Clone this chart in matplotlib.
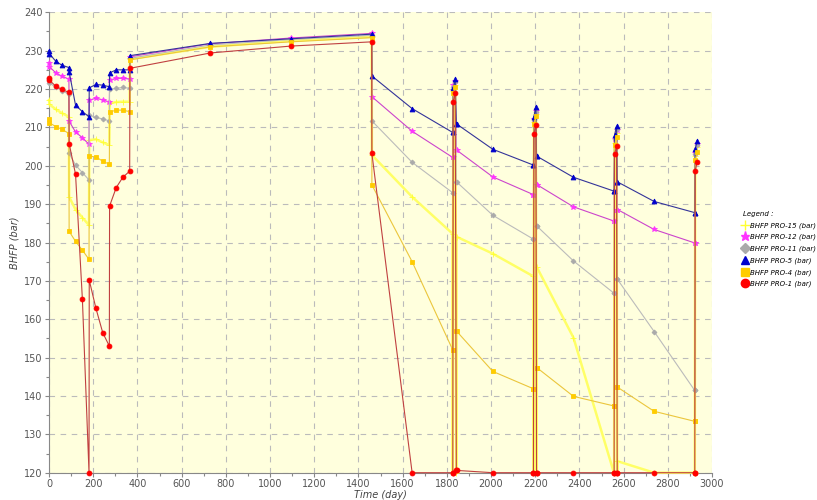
import matplotlib
matplotlib.use('Agg')
import matplotlib.pyplot as plt
from matplotlib.lines import Line2D
from matplotlib.ticker import MultipleLocator

# Simulation report times (days)
days = [0, 2, 31, 59, 90, 91, 120, 151, 181, 182, 212, 243, 273, 274, 304, 334,
        365, 366, 730, 1095, 1460, 1461, 1643,
        1826, 1827, 1829, 1838, 1843, 1844, 2008,
        2191, 2192, 2194, 2203, 2206, 2207, 2373,
        2556, 2557, 2559, 2568, 2571, 2572, 2738,
        2921, 2922, 2924, 2933]

# Bottom hole flowing pressure per well (bar)
pro15 = [217.1, 216.0, 214.7, 213.7, 212.8, 191.9, 188.6, 186.5, 184.5, 206.7, 206.9, 206.1, 205.4, 216.3, 216.6, 216.7,
         216.7, 227.8, 231.0, 232.6, 233.6, 202.8, 191.9,
         182.3, 120.0, 219.5, 221.0, 120.0, 181.5, 177.1,
         171.2, 120.0, 211.5, 213.5, 120.0, 173.6, 155.2,
         120.0, 120.0, 206.0, 208.5, 120.0, 123.0, 120.0,
         120.0, 120.0, 202.5, 205.0]
pro12 = [226.9, 225.8, 224.2, 223.3, 222.6, 211.6, 208.8, 207.3, 205.6, 217.1, 217.6, 217.2, 216.6, 222.3, 222.8, 222.8,
         222.6, 228.4, 231.8, 233.3, 234.5, 218.0, 209.0,
         202.2, 202.2, 221.0, 222.2, 204.1, 204.1, 197.1,
         192.5, 192.5, 212.2, 214.2, 195.1, 195.1, 189.3,
         185.6, 185.6, 207.0, 209.2, 188.6, 188.6, 183.4,
         179.9, 179.9, 203.4, 205.8]
pro11 = [222.8, 221.6, 220.4, 219.6, 218.6, 203.2, 200.2, 198.2, 196.3, 213.2, 212.6, 212.2, 211.7, 219.9, 220.2, 220.4,
         220.2, 228.0, 231.5, 232.9, 234.0, 211.7, 200.9,
         193.0, 193.0, 220.5, 221.8, 195.8, 195.8, 187.1,
         180.9, 180.9, 212.0, 214.0, 184.3, 184.3, 175.2,
         166.8, 166.8, 207.0, 209.5, 170.4, 170.4, 156.8,
         141.5, 141.5, 203.0, 205.5]
pro5 = [230.0, 229.2, 227.2, 226.2, 225.6, 224.5, 215.8, 214.1, 212.8, 220.3, 221.2, 221.0, 220.6, 224.2, 225.0, 225.0,
        225.0, 228.7, 231.9, 233.1, 234.3, 223.4, 214.9,
        208.7, 208.7, 220.2, 222.5, 210.9, 210.9, 204.3,
        200.2, 200.2, 212.8, 215.4, 202.5, 202.5, 197.0,
        193.4, 193.4, 208.0, 210.3, 195.8, 195.8, 190.7,
        187.8, 187.8, 204.3, 206.5]
pro4 = [212.1, 211.2, 210.2, 209.5, 208.4, 182.9, 180.3, 178.0, 175.6, 202.5, 202.3, 201.2, 200.4, 214.0, 214.5, 214.5,
        214.1, 227.6, 231.0, 232.3, 233.4, 195.0, 175.0,
        152.1, 152.1, 219.0, 220.5, 156.9, 156.9, 146.4,
        141.9, 141.9, 211.0, 213.0, 147.4, 147.4, 139.9,
        137.4, 137.4, 205.5, 207.5, 142.3, 142.3, 136.0,
        133.4, 133.4, 201.5, 203.5]
pro1 = [223.0, 222.3, 220.7, 219.9, 219.1, 205.8, 197.8, 165.2, 120.0, 170.2, 162.9, 156.5, 153.0, 189.5, 194.3, 197.0,
        198.6, 225.4, 229.4, 231.2, 232.3, 203.2, 120.0,
        120.0, 120.0, 216.7, 218.9, 120.6, 120.6, 120.0,
        120.0, 120.0, 208.4, 210.6, 120.0, 120.0, 120.0,
        120.0, 120.0, 203.0, 205.1, 120.0, 120.0, 120.0,
        120.0, 120.0, 198.6, 201.1]

names = ['BHFP PRO-15 (bar)', 'BHFP PRO-12 (bar)', 'BHFP PRO-11 (bar)',
         'BHFP PRO-5 (bar)', 'BHFP PRO-4 (bar)', 'BHFP PRO-1 (bar)']
series = [pro15, pro12, pro11, pro5, pro4, pro1]
line_colors = ['#FFFF66', '#CC44CC', '#BBBBBB', '#333399', '#EBC63C', '#C04040']
marker_colors = ['#FFFF33', '#FF33FF', '#AAAAAA', '#0000CC', '#FFCC00', '#FF0000']
markers = ['+', '*', 'D', '^', 's', 'o']
msizes = [4, 4, 2.5, 3.5, 3.5, 3.5]
lwidths = [1.8, 0.8, 0.8, 0.8, 0.8, 0.8]

fig = plt.figure(figsize=(8.17, 5.0), dpi=100)
ax = fig.add_axes([0.060, 0.0546, 0.8115, 0.9208])
ax.set_facecolor('#FFFFDD')

for vals, c, mc, m, ms, lw in zip(series, line_colors, marker_colors, markers, msizes, lwidths):
    ax.plot(days, vals, color=c, lw=lw, marker=m, markersize=ms,
            markerfacecolor=mc, markeredgecolor=mc, markeredgewidth=0.6,
            clip_on=False, zorder=3)

ax.set_xlim(0, 3000)
ax.set_ylim(120, 240)
ax.xaxis.set_major_locator(MultipleLocator(200))
ax.xaxis.set_minor_locator(MultipleLocator(100))
ax.yaxis.set_major_locator(MultipleLocator(10))
ax.yaxis.set_minor_locator(MultipleLocator(5))
ax.grid(True, which='major', color='#BBBBBB', linestyle=(0, (5, 5)), linewidth=0.8, zorder=0)
ax.set_axisbelow(True)

for s in ['top', 'right']:
    ax.spines[s].set_visible(False)
for s in ['left', 'bottom']:
    ax.spines[s].set_color('#888888')
ax.tick_params(which='major', direction='out', length=3, width=0.8, pad=1.5,
               color='#888888', labelcolor='#555555', labelsize=7)
ax.tick_params(which='minor', direction='out', length=2, width=0.8, color='#888888')

ax.set_xlabel('Time (day)', fontsize=7, style='italic', color='#444444', labelpad=0.5)
ax.set_ylabel('BHFP (bar)', fontsize=7, style='italic', color='#444444', labelpad=3)

handles = [Line2D([], [], linestyle='none', marker=m, markersize=ms + 2.5,
                  markerfacecolor=mc, markeredgecolor=mc)
           for m, mc, ms in zip(markers, marker_colors, msizes)]
leg = fig.legend(handles, names, loc='upper left', bbox_to_anchor=(0.909, 0.578),
                 frameon=False, title='Legend :', fontsize=5,
                 handlelength=0.6, handletextpad=0.5, labelspacing=0.75,
                 borderaxespad=0, borderpad=0)
leg.get_title().set_fontsize(5)
leg.get_title().set_style('italic')
leg._legend_box.align = 'left'
for t in leg.get_texts():
    t.set_style('italic')

plt.savefig('out.png', dpi=100)
